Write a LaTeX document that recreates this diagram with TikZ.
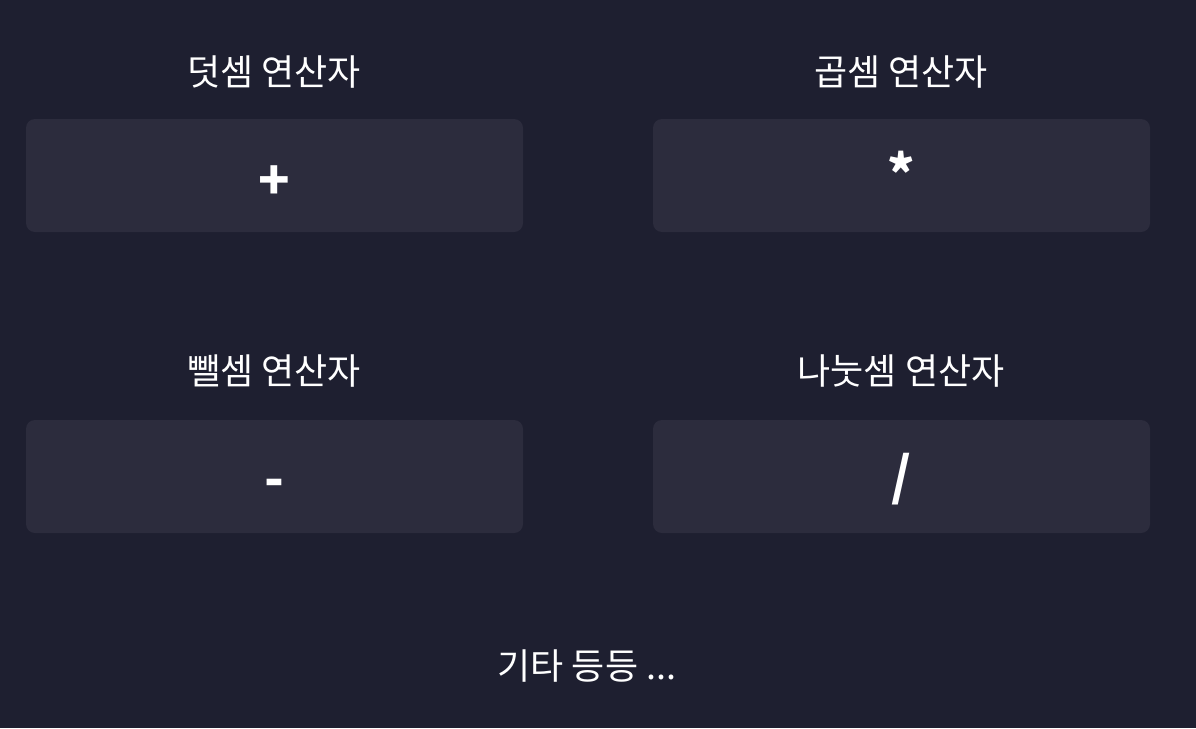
\documentclass[tikz,border=0pt]{standalone}
\usepackage{fontspec}
\setmainfont{Noto Sans CJK KR}
\definecolor{bg}{HTML}{1E1F30}
\definecolor{boxc}{HTML}{2C2C3D}
\begin{document}
\begin{tikzpicture}[x=1pt,y=-1pt,
  opbox/.style={fill=boxc,draw=none,rounded corners=9pt,minimum width=497pt,minimum height=113pt,inner sep=0pt},
  sym/.style={text=white,inner sep=0pt,font=\fontsize{52}{52}\selectfont\bfseries},
  lbl/.style={text=white,font=\fontsize{36}{36}\selectfont,inner sep=0pt}]
\fill[bg] (0,0) rectangle (1196,728);
\useasboundingbox (0,0) rectangle (1196,728);
\node[lbl] (l1) at (274,72) {덧셈 연산자};
\node[lbl] (l2) at (901,72) {곱셈 연산자};
\node[lbl] (l3) at (274,371) {뺄셈 연산자};
\node[lbl] (l4) at (901,371) {나눗셈 연산자};
\node[opbox] (b1) at (274.5,175.5) {};
\node[opbox] (b2) at (901.5,175.5) {};
\node[opbox] (b3) at (274.5,476.5) {};
\node[opbox] (b4) at (901.5,476.5) {};
\node[sym] (s1) at (274,183) {+};
\node[sym] (s2) at (901,172) {*};
\node[sym] (s3) at (274,488) {-};
\node[sym] (s4) at (901,479) {/};
\node[lbl] (etc) at (587,666) {기타 등등 ...};
\end{tikzpicture}
\end{document}
